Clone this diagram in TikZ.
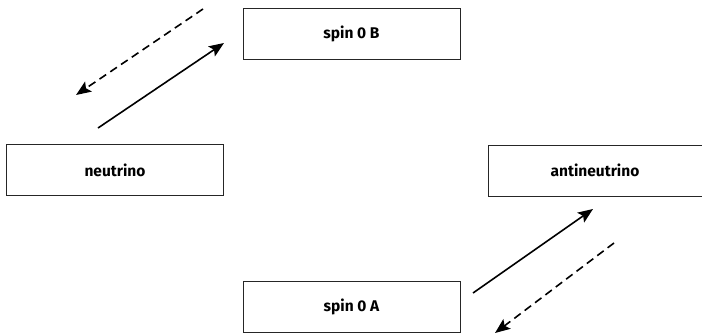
\documentclass[tikz,border=0pt]{standalone}
\usepackage{fontspec}
\setmainfont{Fira Sans}
\usetikzlibrary{arrows.meta}
\begin{document}
\begin{tikzpicture}[x=1pt,y=-1pt,
  box/.style={draw=black!85,line width=0.9pt,minimum width=217pt,minimum height=51pt,inner sep=0pt,font=\fontsize{15.5}{17}\selectfont\bfseries},
  arr/.style={line width=1.6pt,-{Stealth[length=15pt,width=12pt,inset=3pt]}},
  darr/.style={arr,dash pattern=on 8pt off 5pt}]
\useasboundingbox (0,0) rectangle (702,335);
\node[box] (B) at (351.5,34) {spin 0 B};
\node[box] (nu) at (115,170) {neutrino};
\node[box,minimum width=214pt] (anu) at (595,170.5) {antineutrino};
\node[box] (A) at (351.5,307) {spin 0 A};
\coordinate (s1) at (98,128); \coordinate (e1) at (224,43);
\coordinate (s2) at (203,9); \coordinate (e2) at (76,95);
\coordinate (s3) at (473,293); \coordinate (e3) at (593,209);
\coordinate (s4) at (614,243); \coordinate (e4) at (495,333);
\draw[arr] (s1) -- (e1);
\draw[darr] (s2) -- (e2);
\draw[arr] (s3) -- (e3);
\draw[darr] (s4) -- (e4);
\end{tikzpicture}
\end{document}
